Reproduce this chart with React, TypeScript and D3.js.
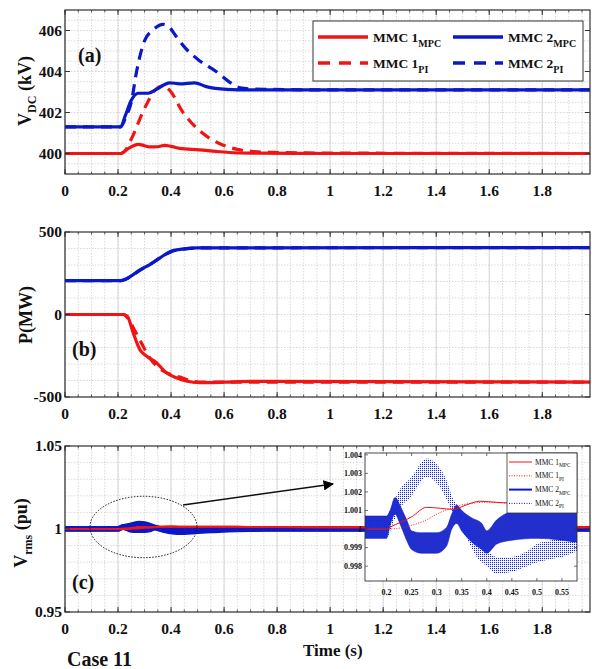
import React from "react";
import * as d3 from "d3";

const RED = "#f01414";
const BLUE = "#0a18c8";
const FONT = "'Liberation Serif', 'Times New Roman', serif";

// ---------- shared x axis ----------
const xTicks = [0, 0.2, 0.4, 0.6, 0.8, 1, 1.2, 1.4, 1.6, 1.8];
const X_DOMAIN: [number, number] = [0, 1.98];

// ---------- (a) DC voltage ----------
const vdcTicks = [400, 402, 404, 406];
const tVdc1Mpc = [0, 0.21, 0.24, 0.276, 0.3, 0.319, 0.35, 0.376, 0.4, 0.432, 0.507, 0.57, 0.62, 0.7, 1.0, 1.98];
const vdc1Mpc = [400, 400, 400.25, 400.45, 400.38, 400.32, 400.33, 400.4, 400.35, 400.25, 400.18, 400.1, 400.05, 400.02, 400, 400];
const tVdc2Mpc = [0, 0.21, 0.226, 0.25, 0.276, 0.314, 0.345, 0.395, 0.432, 0.489, 0.533, 0.61, 0.7, 1.0, 1.98];
const vdc2Mpc = [401.3, 401.3, 401.8, 402.6, 402.94, 402.94, 403.13, 403.45, 403.4, 403.45, 403.26, 403.13, 403.1, 403.1, 403.1];
const tVdc1Pi = [0, 0.21, 0.23, 0.25, 0.3, 0.34, 0.37, 0.4, 0.44, 0.5, 0.58, 0.65, 0.7, 0.8, 1.0, 1.98];
const vdc1Pi = [400, 400, 400.2, 400.7, 402.2, 403.1, 403.3, 403.0, 402.1, 401.2, 400.5, 400.2, 400.1, 400.05, 400.02, 400.0];
const tVdc2Pi = [0, 0.21, 0.23, 0.25, 0.27, 0.3, 0.33, 0.37, 0.39, 0.42, 0.45, 0.5, 0.57, 0.63, 0.66, 0.7, 1.0, 1.98];
const vdc2Pi = [401.3, 401.3, 401.8, 402.5, 404.0, 405.5, 406.0, 406.3, 406.2, 405.7, 405.2, 404.6, 404.0, 403.4, 403.2, 403.15, 403.1, 403.1];

// ---------- (b) active power ----------
const pTicks = [-500, 0, 500];
const tP2Mpc = [0, 0.21, 0.23, 0.26, 0.28, 0.32, 0.36, 0.4, 0.45, 0.5, 1.98];
const p2Mpc = [205, 205, 215, 245, 268, 302, 345, 383, 398, 404, 405];
const tP2Pi = [0, 0.21, 0.23, 0.26, 0.29, 0.33, 0.37, 0.41, 0.46, 0.52, 1.98];
const p2Pi = [205, 205, 214, 243, 275, 313, 355, 386, 399, 404, 405];
const tP1Mpc = [0, 0.22, 0.235, 0.257, 0.282, 0.307, 0.345, 0.382, 0.42, 0.457, 0.508, 0.6, 0.7, 1.98];
const p1Mpc = [0, 0, -10, -110, -212, -252, -292, -353, -383, -403, -413, -410, -405, -410];
const tP1Pi = [0, 0.22, 0.24, 0.264, 0.289, 0.314, 0.345, 0.39, 0.43, 0.47, 0.52, 1.98];
const p1Pi = [0, 0, -30, -100, -175, -250, -312, -358, -378, -400, -410, -410];

// ---------- (c) rms voltage ----------
const vTicks = [0.95, 1, 1.05];
const tV1Mpc = [0, 0.157, 0.2, 0.207, 0.25, 0.28, 0.307, 0.333, 0.359, 0.386, 0.419, 0.45, 0.5, 0.58, 0.7, 1.0, 1.98];
const v1Mpc = [1, 1, 1, 1.0001, 1.00066, 1.00117, 1.00112, 1.00106, 1.0013, 1.0015, 1.00144, 1.0014, 1.0014, 1.0014, 1.0012, 1.0011, 1.0011];
const tV1Pi = [0, 0.157, 0.2, 0.22, 0.25, 0.28, 0.3, 0.326, 0.35, 0.373, 0.4, 0.45, 0.5, 0.58, 0.7, 1.0, 1.98];
const v1Pi = [1, 1, 1, 1.00003, 1.0002, 1.0005, 1.0008, 1.0011, 1.0013, 1.0014, 1.00145, 1.0014, 1.0014, 1.0014, 1.0012, 1.0011, 1.0011];
const tV2Mpc = [0, 0.157, 0.2, 0.207, 0.217, 0.228, 0.24, 0.25, 0.27, 0.3, 0.32, 0.33, 0.34, 0.35, 0.37, 0.39, 0.4, 0.42, 0.45, 0.5, 0.55, 0.58, 0.7, 1.0, 1.98];
const v2MpcUp = [1.0007, 1.0007, 1.0007, 1.001, 1.0017, 1.0012, 1.0005, 0.9999, 0.9998, 0.9998, 1.0001, 1.0008, 1.0013, 1.001, 1.0006, 1.0003, 0.9999, 1.0005, 1.0009, 1.0009, 1.0009, 1.0009, 1.0008, 1.0007, 1.0007];
const v2MpcLow = [0.9995, 0.9995, 0.9995, 1.0002, 1.0008, 1.0002, 0.9994, 0.9989, 0.9987, 0.9987, 0.9991, 1.0, 1.0003, 0.9999, 0.9993, 0.9989, 0.9987, 0.9992, 0.9994, 0.9995, 0.9994, 0.9993, 0.9994, 0.9995, 0.9995];
const tV2Pi = [0, 0.157, 0.2, 0.21, 0.22, 0.25, 0.28, 0.3, 0.32, 0.33, 0.345, 0.36, 0.38, 0.4, 0.42, 0.45, 0.48, 0.5, 0.53, 0.55, 0.58, 0.7, 1.0, 1.98];
const v2PiUp = [1.0005, 1.0005, 1.0005, 1.0011, 1.0018, 1.0028, 1.0038, 1.0035, 1.0026, 1.0018, 1.0011, 1.0004, 0.9995, 0.9989, 0.9985, 0.9985, 0.9988, 0.9992, 0.9994, 0.9996, 0.9998, 1.0004, 1.0005, 1.0005];
const v2PiLow = [0.9995, 0.9995, 0.9995, 1.0001, 1.0008, 1.0018, 1.0028, 1.0025, 1.0016, 1.001, 1.0003, 0.9995, 0.9985, 0.998, 0.9976, 0.9977, 0.998, 0.9982, 0.9984, 0.9985, 0.9988, 0.9994, 0.9995, 0.9995];

// inset ticks
const insetXTicks = [0.2, 0.25, 0.3, 0.35, 0.4, 0.45, 0.5, 0.55];
const insetYTicks = [0.998, 0.999, 1, 1.001, 1.002, 1.003, 1.004];

const legendLabels = ["MMC 1", "MMC 2"];

function steps(a: number, b: number, s: number) {
  const out: number[] = [];
  const n = Math.round((b - a) / s);
  for (let i = 0; i <= n; i++) out.push(+(a + i * s).toFixed(6));
  return out;
}
const fmt = (v: number) => String(+v.toFixed(4));

const L = 65, R = 590;

type Sc = d3.ScaleLinear<number, number>;

function Grid({ x, y, yMinor }: { x: Sc; y: Sc; yMinor: number[] }) {
  const [x0, x1] = x.range();
  const [yb, yt] = y.range();
  const xMinor = steps(0, 1.95, 0.05);
  return (
    <g>
      <rect x={x0} y={yt} width={x1 - x0} height={yb - yt} fill="#fff" />
      {xMinor.map((v) => (
        <line key={"gx" + v} x1={x(v)} x2={x(v)} y1={yt} y2={yb} stroke="#c9c9c9" strokeWidth={0.7} strokeDasharray="1.5 1.5" />
      ))}
      {yMinor.map((v) => (
        <line key={"gy" + v} x1={x0} x2={x1} y1={y(v)} y2={y(v)} stroke="#c9c9c9" strokeWidth={0.7} strokeDasharray="1.5 1.5" />
      ))}
      {xTicks.map((v) => (
        <line key={"GX" + v} x1={x(v)} x2={x(v)} y1={yt} y2={yb} stroke="#d2d2d2" strokeWidth={0.8} />
      ))}
    </g>
  );
}

function Frame({ x, y, yTicks }: { x: Sc; y: Sc; yTicks: number[] }) {
  const [x0, x1] = x.range();
  const [yb, yt] = y.range();
  const xMinor = steps(0, 1.95, 0.05);
  return (
    <g fontFamily={FONT} fontWeight="bold">
      {xMinor.map((v) => (
        <g key={"m" + v}>
          <line x1={x(v)} x2={x(v)} y1={yb} y2={yb - 2.5} stroke="#333" strokeWidth={0.8} />
          <line x1={x(v)} x2={x(v)} y1={yt} y2={yt + 2.5} stroke="#333" strokeWidth={0.8} />
        </g>
      ))}
      {xTicks.map((v) => (
        <g key={"t" + v}>
          <line x1={x(v)} x2={x(v)} y1={yb} y2={yb - 5} stroke="#333" strokeWidth={1} />
          <line x1={x(v)} x2={x(v)} y1={yt} y2={yt + 5} stroke="#333" strokeWidth={1} />
          <text x={x(v)} y={yb + 22} textAnchor="middle" fontSize={15.5} fill="#111">{fmt(v)}</text>
        </g>
      ))}
      {yTicks.map((v) => (
        <g key={"y" + v}>
          <line x1={x0} x2={x0 + 5} y1={y(v)} y2={y(v)} stroke="#333" strokeWidth={1} />
          <line x1={x1} x2={x1 - 5} y1={y(v)} y2={y(v)} stroke="#333" strokeWidth={1} />
          <text x={x0 - 3} y={y(v)} dy="0.35em" textAnchor="end" fontSize={15.5} fill="#111">{fmt(v)}</text>
        </g>
      ))}
      <rect x={x0} y={yt} width={x1 - x0} height={yb - yt} fill="none" stroke="#333" strokeWidth={1.2} />
    </g>
  );
}

function makeLine(x: Sc, y: Sc, ts: number[], vs: number[]) {
  const pts = ts.map((t, i) => [t, vs[i]] as [number, number]);
  return d3.line<[number, number]>().x((d) => x(d[0])).y((d) => y(d[1])).curve(d3.curveMonotoneX)(pts) || "";
}
function makeArea(x: Sc, y: Sc, ts: number[], up: number[], low: number[]) {
  const pts = ts.map((t, i) => [t, up[i], low[i]] as [number, number, number]);
  return d3.area<[number, number, number]>().x((d) => x(d[0])).y0((d) => y(d[2])).y1((d) => y(d[1])).curve(d3.curveMonotoneX)(pts) || "";
}

export default function App() {
  const x = d3.scaleLinear().domain(X_DOMAIN).range([L, R]);
  const ya = d3.scaleLinear().domain([399, 407]).range([174, 10]);
  const yb = d3.scaleLinear().domain([-500, 500]).range([397, 232]);
  const yc = d3.scaleLinear().domain([0.95, 1.05]).range([612, 446]);
  const xi = d3.scaleLinear().domain([0.157, 0.58]).range([365, 577]);
  const yi = d3.scaleLinear().domain([0.9972, 1.0041]).range([581, 453]);

  const mid2Mpc = v2MpcUp.map((u, i) => (u + v2MpcLow[i]) / 2);
  const mid2Pi = v2PiUp.map((u, i) => (u + v2PiLow[i]) / 2);

  const legRows = [
    { y: 37, items: [{ x: 318, c: RED, dash: false, lab: legendLabels[0], sub: "MPC" }, { x: 453, c: BLUE, dash: false, lab: legendLabels[1], sub: "MPC" }] },
    { y: 63, items: [{ x: 318, c: RED, dash: true, lab: legendLabels[0], sub: "PI" }, { x: 453, c: BLUE, dash: true, lab: legendLabels[1], sub: "PI" }] },
  ];

  const insetLeg = [
    { c: RED, w: 1, dash: "", lab: legendLabels[0], sub: "MPC" },
    { c: RED, w: 1, dash: "1 1.5", lab: legendLabels[0], sub: "PI" },
    { c: BLUE, w: 2, dash: "", lab: legendLabels[1], sub: "MPC" },
    { c: BLUE, w: 1, dash: "1 1.5", lab: legendLabels[1], sub: "PI" },
  ];

  return (
    <div style={{ position: "absolute", left: 0, top: 0 }}>
      <svg width={592} height={669} viewBox="0 0 592 669" style={{ display: "block", background: "#fff" }}>
        <defs>
          <clipPath id="clipA"><rect x={L} y={10} width={R - L} height={164} /></clipPath>
          <clipPath id="clipB"><rect x={L} y={232} width={R - L} height={165} /></clipPath>
          <clipPath id="clipC"><rect x={L} y={446} width={R - L} height={166} /></clipPath>
          <clipPath id="clipI"><rect x={365} y={453} width={212} height={128} /></clipPath>
          <pattern id="dots" width={2} height={2} patternUnits="userSpaceOnUse">
            <rect width={1.1} height={1.1} fill="#1428e0" />
          </pattern>
          <marker id="arrow" viewBox="0 0 10 10" refX={9} refY={5} markerWidth={7} markerHeight={7} orient="auto">
            <path d="M0,0 L10,5 L0,10 z" fill="#000" />
          </marker>
        </defs>

        {/* ---------- panel (a) ---------- */}
        <Grid x={x} y={ya} yMinor={steps(399, 407, 0.5)} />
        <g clipPath="url(#clipA)" fill="none" strokeWidth={3.2}>
          <path d={makeLine(x, ya, tVdc2Pi, vdc2Pi)} stroke={BLUE} strokeDasharray="11 7" />
          <path d={makeLine(x, ya, tVdc1Pi, vdc1Pi)} stroke={RED} strokeDasharray="11 7" />
          <path d={makeLine(x, ya, tVdc1Mpc, vdc1Mpc)} stroke={RED} />
          <path d={makeLine(x, ya, tVdc2Mpc, vdc2Mpc)} stroke={BLUE} />
        </g>
        <Frame x={x} y={ya} yTicks={vdcTicks} />
        <g fontFamily={FONT} fontWeight="bold">
          <rect x={313} y={21} width={270} height={60} fill="#fff" stroke="#333" strokeWidth={1} />
          {legRows.map((r) =>
            r.items.map((it) => (
              <g key={r.y + it.lab}>
                <line x1={it.x} x2={it.x + 50} y1={r.y} y2={r.y} stroke={it.c} strokeWidth={3.5} strokeDasharray={it.dash ? "12 9" : undefined} />
                <text x={it.x + 55} y={r.y + 5} fontSize={13.5} fill="#111">
                  {it.lab}
                  <tspan fontSize={10} dy={5}>{it.sub}</tspan>
                </text>
              </g>
            ))
          )}
          <text x={78} y={62} fontSize={20} fill="#111">(a)</text>
          <text transform="translate(31,91) rotate(-90)" textAnchor="middle" fontSize={18} fill="#111">
            V<tspan fontSize={12} dy={5}>DC</tspan><tspan dy={-5}> (kV)</tspan>
          </text>
        </g>

        {/* ---------- panel (b) ---------- */}
        <Grid x={x} y={yb} yMinor={steps(-500, 500, 100)} />
        <g clipPath="url(#clipB)" fill="none" strokeWidth={3.2}>
          <path d={makeLine(x, yb, tP2Pi, p2Pi)} stroke={BLUE} strokeDasharray="11 7" />
          <path d={makeLine(x, yb, tP1Pi, p1Pi)} stroke={RED} strokeDasharray="11 7" />
          <path d={makeLine(x, yb, tP1Mpc, p1Mpc)} stroke={RED} />
          <path d={makeLine(x, yb, tP2Mpc, p2Mpc)} stroke={BLUE} />
        </g>
        <Frame x={x} y={yb} yTicks={pTicks} />
        <g fontFamily={FONT} fontWeight="bold" fill="#111">
          <text x={72} y={356} fontSize={20}>(b)</text>
          <text transform="translate(32,315) rotate(-90)" textAnchor="middle" fontSize={18}>P(MW)</text>
        </g>

        {/* ---------- panel (c) ---------- */}
        <Grid x={x} y={yc} yMinor={steps(0.95, 1.05, 0.01)} />
        <g clipPath="url(#clipC)" fill="none">
          <path d={makeLine(x, yc, tV2Mpc, mid2Mpc)} stroke={BLUE} strokeWidth={5.5} />
          <path d={makeLine(x, yc, tV2Pi, mid2Pi)} stroke={BLUE} strokeWidth={5.5} />
          <path d={makeLine(x, yc, tV1Pi, v1Pi)} stroke={RED} strokeWidth={2} />
          <path d={makeLine(x, yc, tV1Mpc, v1Mpc)} stroke={RED} strokeWidth={2} />
        </g>
        <Frame x={x} y={yc} yTicks={vTicks} />
        <ellipse cx={143.5} cy={527} rx={53.5} ry={30.7} fill="none" stroke="#111" strokeWidth={1} strokeDasharray="1.5 1.5" />
        <line x1={183} y1={505} x2={333} y2={484} stroke="#111" strokeWidth={1.5} markerEnd="url(#arrow)" />

        {/* ---------- inset ---------- */}
        <rect x={365} y={453} width={212} height={128} fill="#fff" />
        <g clipPath="url(#clipI)">
          <path d={makeArea(xi, yi, tV2Mpc, v2MpcUp, v2MpcLow)} fill={BLUE} fillOpacity={0.9} stroke={BLUE} strokeWidth={0.6} />
          <path d={makeArea(xi, yi, tV2Pi, v2PiUp, v2PiLow)} fill="url(#dots)" />
          <path d={makeLine(xi, yi, tV1Pi, v1Pi)} fill="none" stroke={RED} strokeWidth={1} strokeDasharray="1 1.5" />
          <path d={makeLine(xi, yi, tV1Mpc, v1Mpc)} fill="none" stroke={RED} strokeWidth={1} />
        </g>
        <g fontFamily={FONT} fontWeight="bold" fill="#111">
          {insetXTicks.map((v) => (
            <g key={"ix" + v}>
              <line x1={xi(v)} x2={xi(v)} y1={581} y2={578} stroke="#333" strokeWidth={0.7} />
              <line x1={xi(v)} x2={xi(v)} y1={453} y2={456} stroke="#333" strokeWidth={0.7} />
              <text x={xi(v)} y={595} textAnchor="middle" fontSize={8}>{fmt(v)}</text>
            </g>
          ))}
          {insetYTicks.map((v) => (
            <g key={"iy" + v}>
              <line x1={365} x2={368} y1={yi(v)} y2={yi(v)} stroke="#333" strokeWidth={0.7} />
              <line x1={577} x2={574} y1={yi(v)} y2={yi(v)} stroke="#333" strokeWidth={0.7} />
              <text x={362} y={yi(v)} dy="0.35em" textAnchor="end" fontSize={8}>{fmt(v)}</text>
            </g>
          ))}
          <rect x={365} y={453} width={212} height={128} fill="none" stroke="#333" strokeWidth={0.9} />
          <rect x={507} y={453} width={70} height={60} fill="#fff" stroke="#333" strokeWidth={0.8} />
          {insetLeg.map((it, i) => {
            const yy = 462 + i * 13.8;
            return (
              <g key={"il" + i}>
                <line x1={509} x2={532} y1={yy} y2={yy} stroke={it.c} strokeWidth={it.w} strokeDasharray={it.dash || undefined} />
                <text x={535} y={yy + 2.5} fontSize={7.5} fontWeight="normal">
                  {it.lab}
                  <tspan fontSize={5.5} dy={2.5}>{it.sub}</tspan>
                </text>
              </g>
            );
          })}
        </g>

        <g fontFamily={FONT} fontWeight="bold" fill="#111">
          <text x={72} y={589} fontSize={20}>(c)</text>
          <text transform="translate(27,533) rotate(-90)" textAnchor="middle" fontSize={18}>
            V<tspan fontSize={12} dy={5}>rms</tspan><tspan dy={-5}> (pu)</tspan>
          </text>
          <text x={303} y={656} fontSize={17}>Time (s)</text>
          <text x={67} y={666} fontSize={20}>Case 11</text>
        </g>
      </svg>
    </div>
  );
}
